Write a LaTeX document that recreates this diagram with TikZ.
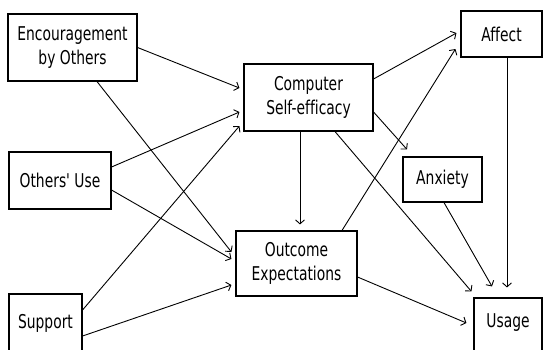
\documentclass[tikz,border=0pt]{standalone}
\usepackage{fontspec}
\setmainfont{DejaVu Sans}[FakeStretch=0.73,Ligatures={TeXOff,NoCommon}]
\usetikzlibrary{arrows.meta,calc}

\begin{document}
\begin{tikzpicture}[x=1pt,y=-1pt,
  box/.style={draw,line width=1.1pt,inner sep=0pt,align=center,
    font=\fontsize{19}{24}\selectfont},
  lbl/.style={font=\fontsize{19}{24}\selectfont},
  link/.style={line width=0.9pt,-{Straight Barb[length=4pt,width=9pt]}}
]
\useasboundingbox (0,0) rectangle (543,349);

% construct boxes
\node[box,minimum width=129pt,minimum height=67pt] (enc) at (72.5,47.5) {Encouragement\\by Others};
\node[box,minimum width=102pt,minimum height=57pt] (ou) at (60,180.5) {Others' Use};
\node[box,minimum width=73pt,minimum height=60pt,
  label={[lbl,yshift=1pt]center:Support}] (sup) at (45.5,324) {};
\node[box,minimum width=129pt,minimum height=67pt] (cse) at (308.5,97.5) {Computer\\Self-efficacy};
\node[box,minimum width=121pt,minimum height=65pt] (oe) at (296.5,263.5) {Outcome\\Expectations};
\node[box,minimum width=81pt,minimum height=46pt] (aff) at (501.5,34) {Affect};
\node[box,minimum width=79pt,minimum height=45pt] (anx) at (442.5,179.5) {Anxiety};
\node[box,minimum width=68pt,minimum height=60pt,
  label={[lbl,yshift=5pt]center:Usage}] (use) at (508,328) {};

% paths into computer self-efficacy
\draw[link] (enc.east) -- ($(cse.west)+(-4,-9.5)$);
\draw[link] ($(ou.east)+(0,-13.5)$) -- ($(cse.west)+(-4,14.5)$);
\draw[link] ($(sup.east)+(0,-14)$) -- ($(cse.west)+(-4,28.5)$);

% paths into outcome expectations
\draw[link] ($(enc.south)+(24.5,0)$) -- ($(oe.west)+(-4,-11.5)$);
\draw[link] ($(ou.east)+(0,9.5)$) -- ($(oe.west)+(-4,-4.5)$);
\draw[link] ($(sup.east)+(0,12)$) -- ($(oe.west)+(-4,21.5)$);
\draw[link] ($(cse.south)+(-8.5,0)$) -- ($(oe.north)+(3.5,-6)$);

% paths into affect and anxiety
\draw[link] ($(cse.east)+(0,-18.5)$) -- ($(aff.west)+(-4,-1)$);
\draw[link] ($(oe.north)+(45.5,0)$) -- ($(aff.west)+(-5,15)$);
\draw[link] ($(cse.east)+(0,14.5)$) -- ($(anx.north)+(-35.5,-7)$);

% paths into usage
\draw[link] ($(cse.south)+(26.5,0)$) -- ($(use.north west)+(-2,-6)$);
\draw[link] ($(anx.south)+(1.5,0)$) -- ($(use.north)+(-16,-11)$);
\draw[link] ($(aff.south)+(5.5,0)$) -- ($(use.north)+(-1,-10)$);
\draw[link] ($(oe.east)+(0,13.5)$) -- ($(use.west)+(-7,-5)$);
\end{tikzpicture}
\end{document}
